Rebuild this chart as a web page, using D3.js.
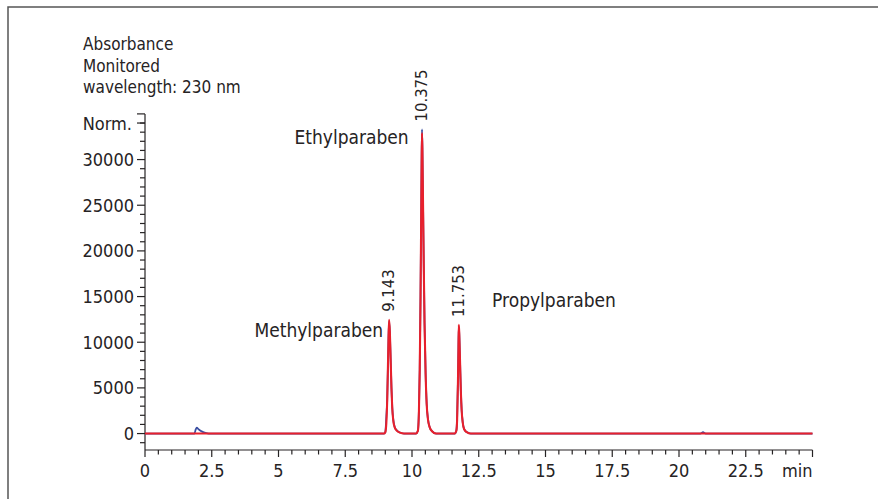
<!DOCTYPE html>
<head>
<style>
body { margin: 0; background: #fff; }
svg { font-family: "Liberation Sans Narrow", "Arial Narrow", "DejaVu Sans Condensed", sans-serif; }
text { fill: #262324; }
</style>
<script src="https://d3js.org/d3.v7.min.js"></script>
</head>
<body>
<svg id="chrom" width="878" height="499"></svg>
<script>

// retention time (min) / absorbance (Norm.)
var redTime = [0, 8.95, 9.0, 9.04, 9.07, 9.1, 9.12, 9.143, 9.17, 9.2, 9.23, 9.26, 9.3, 9.35, 9.42, 9.55, 9.7,
    10.15, 10.22, 10.26, 10.29, 10.32, 10.345, 10.36, 10.375, 10.39, 10.41, 10.44, 10.47, 10.51, 10.55, 10.6, 10.66, 10.75, 10.9,
    11.6, 11.66, 11.69, 11.72, 11.74, 11.753, 11.77, 11.8, 11.83, 11.86, 11.9, 11.95, 12.05, 12.2, 25];
var redAbs = [0, 0, 150, 1200, 3500, 7500, 10500, 12450, 11200, 8200, 5000, 2800, 1400, 700, 350, 100, 0,
    0, 300, 2500, 7000, 15000, 24000, 29500, 32900, 31000, 26000, 18500, 12000, 6500, 3200, 1500, 700, 250, 0,
    0, 300, 1500, 5500, 9500, 11900, 11000, 7800, 4600, 2500, 1200, 500, 150, 0, 0];

var blueTime = [0, 1.85, 1.9, 1.94, 2.0, 2.08, 2.18, 2.3, 2.45, 8.95, 9.0, 9.04, 9.07, 9.1, 9.12, 9.143, 9.17, 9.2, 9.23, 9.26, 9.3, 9.35, 9.42, 9.55, 9.7,
    10.15, 10.22, 10.26, 10.29, 10.32, 10.345, 10.36, 10.375, 10.39, 10.41, 10.44, 10.47, 10.51, 10.55, 10.6, 10.66, 10.75, 10.9,
    11.6, 11.66, 11.69, 11.72, 11.74, 11.753, 11.77, 11.8, 11.83, 11.86, 11.9, 11.95, 12.05, 12.2, 20.8, 20.9, 21.0, 25];
var blueAbs = [0, 0, 450, 650, 480, 300, 160, 60, 0, 0, 150, 1900, 3600, 7400, 10300, 12300, 11100, 8200, 5100, 2900, 1500, 750, 380, 110, 0,
    0, 300, 2600, 7100, 15200, 24300, 29900, 33300, 31200, 26100, 18600, 12100, 6600, 3300, 1550, 720, 260, 0,
    0, 320, 1700, 5600, 9400, 11700, 10900, 7800, 4700, 2600, 1250, 520, 160, 0, 0, 150, 0, 0];

var peakTimes = [9.143, 10.375, 11.753];
var peakHeights = [12450, 33300, 11900];
var compounds = ["Methylparaben", "Ethylparaben", "Propylparaben"];

var xTickLabels = ["0", "2.5", "5", "7.5", "10", "12.5", "15", "17.5", "20", "22.5"];
var yTickLabels = ["0", "5000", "10000", "15000", "20000", "25000", "30000"];

var svg = d3.select("#chrom");

// frame (only top and left edges show in the crop)
svg.append("path")
    .attr("d", "M8,499V7H878")
    .attr("fill", "none")
    .attr("stroke", "#555")
    .attr("stroke-width", 1.5);

var x = d3.scaleLinear().domain([0, 25]).range([145, 812.5]);
var y = d3.scaleLinear().domain([-1800, 35000]).range([450, 113.9]);

var axisColor = "#262324";

// x axis: minor ticks every 0.5 min, labels every 2.5
var xAxis = svg.append("g").attr("transform", "translate(0,450)");
xAxis.append("line")
    .attr("x1", x(0)).attr("x2", x(25))
    .attr("stroke", axisColor).attr("stroke-width", 1.2);
xAxis.selectAll(".xt")
    .data(d3.range(0, 51).map(function(i) { return i * 0.5; }))
    .enter().append("line")
    .attr("x1", function(d) { return x(d); })
    .attr("x2", function(d) { return x(d); })
    .attr("y2", function(d, i) { return i % 5 === 0 ? 7 : 4.5; })
    .attr("stroke", axisColor).attr("stroke-width", 1.2);
xAxis.selectAll(".xl")
    .data(xTickLabels)
    .enter().append("text")
    .attr("x", function(d) { return x(+d); })
    .attr("y", 26.5)
    .attr("text-anchor", "middle")
    .attr("font-size", 18)
    .text(function(d) { return d; });
xAxis.append("text")
    .attr("x", x(25)).attr("y", 26.5)
    .attr("text-anchor", "end")
    .attr("font-size", 18)
    .text("min");

// y axis: minor ticks every 1000
var yAxis = svg.append("g").attr("transform", "translate(145,0)");
yAxis.append("line")
    .attr("y1", y(-1800)).attr("y2", y(35000))
    .attr("stroke", axisColor).attr("stroke-width", 1.2);
yAxis.selectAll(".yt")
    .data(d3.range(-1, 36).map(function(i) { return i * 1000; }))
    .enter().append("line")
    .attr("y1", function(d) { return y(d); })
    .attr("y2", function(d) { return y(d); })
    .attr("x1", function(d) { return d % 5000 === 0 ? -8 : -5; })
    .attr("stroke", axisColor).attr("stroke-width", 1.2);
yAxis.append("line")
    .attr("y1", y(34000)).attr("y2", y(34000)).attr("x1", -8)
    .attr("stroke", axisColor).attr("stroke-width", 1.2);
yAxis.selectAll(".yl")
    .data(yTickLabels)
    .enter().append("text")
    .attr("x", -11)
    .attr("y", function(d) { return y(+d); })
    .attr("dy", "0.36em")
    .attr("text-anchor", "end")
    .attr("font-size", 18)
    .text(function(d) { return d; });
yAxis.append("text")
    .attr("x", -13).attr("y", y(34000)).attr("dy", "0.36em")
    .attr("text-anchor", "end")
    .attr("font-size", 18)
    .text("Norm.");

// titles
var title = ["Absorbance", "Monitored", "wavelength: 230 nm"];
svg.selectAll(".title")
    .data(title)
    .enter().append("text")
    .attr("x", 83)
    .attr("y", function(d, i) { return 50 + i * 21.7; })
    .attr("font-size", 17)
    .text(function(d) { return d; });

// traces
var line = function(ts, vs) {
    return d3.line()
        .x(function(d, i) { return x(ts[i]); })
        .y(function(d, i) { return y(vs[i]); })
        .curve(d3.curveMonotoneX)(ts);
};

svg.append("path")
    .attr("d", line(blueTime, blueAbs))
    .attr("fill", "none")
    .attr("stroke", "#3b4fa2")
    .attr("stroke-width", 1.8);

svg.append("path")
    .attr("d", line(redTime, redAbs))
    .attr("fill", "none")
    .attr("stroke", "#e8202c")
    .attr("stroke-width", 2.1);

// retention time labels above the peaks
svg.selectAll(".rt")
    .data(peakTimes)
    .enter().append("text")
    .attr("transform", function(d, i) {
        return "translate(" + (x(d) + 5) + "," + (y(peakHeights[i]) - 8) + ") rotate(-90)";
    })
    .attr("font-size", 16.5)
    .text(function(d) { return d3.format(".3f")(d); });

// compound names
var namePos = [[8.92, 10570, "end"], [9.876, 31700, "end"], [13.0, 13880, "start"]];
svg.selectAll(".name")
    .data(compounds)
    .enter().append("text")
    .attr("x", function(d, i) { return x(namePos[i][0]); })
    .attr("y", function(d, i) { return y(namePos[i][1]); })
    .attr("text-anchor", function(d, i) { return namePos[i][2]; })
    .attr("font-size", 19)
    .text(function(d) { return d; });

</script>
</body>
</html>
